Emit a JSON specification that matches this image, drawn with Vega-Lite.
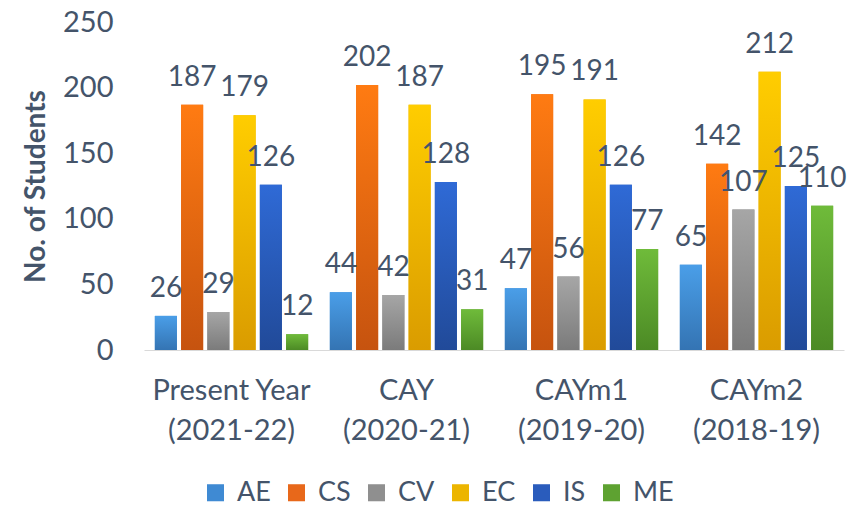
{
  "$schema": "https://vega.github.io/schema/vega-lite/v6.json",
  "width": 700,
  "height": 328,
  "autosize": {"type": "none"},
  "padding": {"left": 144, "top": 22, "right": 20, "bottom": 158},
  "background": "white",
  "config": {
    "font": "Lato",
    "view": {"stroke": null},
    "axis": {"labelFont": "Lato", "titleFont": "Lato", "labelColor": "#44546a", "titleColor": "#44546a"}
  },
  "data": {
    "values": [
      {"year": "Present Year|(2021-22)", "dept": "AE", "students": 26},
      {"year": "Present Year|(2021-22)", "dept": "CS", "students": 187},
      {"year": "Present Year|(2021-22)", "dept": "CV", "students": 29},
      {"year": "Present Year|(2021-22)", "dept": "EC", "students": 179},
      {"year": "Present Year|(2021-22)", "dept": "IS", "students": 126},
      {"year": "Present Year|(2021-22)", "dept": "ME", "students": 12},
      {"year": "CAY|(2020-21)", "dept": "AE", "students": 44},
      {"year": "CAY|(2020-21)", "dept": "CS", "students": 202},
      {"year": "CAY|(2020-21)", "dept": "CV", "students": 42},
      {"year": "CAY|(2020-21)", "dept": "EC", "students": 187},
      {"year": "CAY|(2020-21)", "dept": "IS", "students": 128},
      {"year": "CAY|(2020-21)", "dept": "ME", "students": 31},
      {"year": "CAYm1|(2019-20)", "dept": "AE", "students": 47},
      {"year": "CAYm1|(2019-20)", "dept": "CS", "students": 195},
      {"year": "CAYm1|(2019-20)", "dept": "CV", "students": 56},
      {"year": "CAYm1|(2019-20)", "dept": "EC", "students": 191},
      {"year": "CAYm1|(2019-20)", "dept": "IS", "students": 126},
      {"year": "CAYm1|(2019-20)", "dept": "ME", "students": 77},
      {"year": "CAYm2|(2018-19)", "dept": "AE", "students": 65},
      {"year": "CAYm2|(2018-19)", "dept": "CS", "students": 142},
      {"year": "CAYm2|(2018-19)", "dept": "CV", "students": 107},
      {"year": "CAYm2|(2018-19)", "dept": "EC", "students": 212},
      {"year": "CAYm2|(2018-19)", "dept": "IS", "students": 125},
      {"year": "CAYm2|(2018-19)", "dept": "ME", "students": 110}
    ]
  },
  "encoding": {
    "x": {
      "field": "year",
      "type": "nominal",
      "sort": null,
      "scale": {"paddingInner": 0.1, "paddingOuter": 0.05},
      "axis": {
        "title": null,
        "labelAngle": 0,
        "labelExpr": "split(datum.label, '|')",
        "labelFontSize": 29,
        "labelLineHeight": 40,
        "labelPadding": 26,
        "labelBaseline": "top",
        "ticks": false,
        "domain": true,
        "domainColor": "#d9d9d9",
        "grid": false
      }
    },
    "xOffset": {
      "field": "dept",
      "type": "nominal",
      "sort": ["AE", "CS", "CV", "EC", "IS", "ME"],
      "scale": {"paddingInner": 0.16, "paddingOuter": 0.08}
    },
    "y": {
      "field": "students",
      "type": "quantitative",
      "scale": {"domain": [0, 250], "nice": false},
      "axis": {
        "title": "No. of Students",
        "titleFontSize": 28,
        "titleFontWeight": "bold",
        "titlePadding": 12,
        "labelFontSize": 29,
        "labelPadding": 31,
        "labelOverlap": false,
        "values": [0, 50, 100, 150, 200, 250],
        "domain": false,
        "ticks": false,
        "grid": false
      }
    }
  },
  "layer": [
    {
      "mark": {"type": "bar"},
      "encoding": {
        "color": {
          "field": "dept",
          "type": "nominal",
          "sort": ["AE", "CS", "CV", "EC", "IS", "ME"],
          "scale": {"domain": ["AE", "CS", "CV", "EC", "IS", "ME"], "range": ["#3f8ad3", "#e8681a", "#8f8f8f", "#ecb500", "#2a5cbc", "#5ea231"]},
          "legend": {
            "title": null,
            "orient": "none",
            "direction": "horizontal",
            "legendX": 58,
            "legendY": 457,
            "symbolType": "square",
            "symbolSize": 290,
            "symbolStrokeWidth": 0,
            "labelFontSize": 27,
            "labelColor": "#44546a",
            "labelFont": "Lato",
            "labelOffset": 8,
            "columnPadding": 12
          }
        }
      }
    },
    {
      "mark": {"type": "bar"},
      "encoding": {
        "fill": {
          "condition": [
            {"test": "datum.dept === 'AE'", "value": {"gradient": "linear", "x1": 0, "y1": 0, "x2": 0, "y2": 1, "stops": [{"offset": 0, "color": "#4a9ee8"}, {"offset": 1, "color": "#3474b3"}]}},
            {"test": "datum.dept === 'CS'", "value": {"gradient": "linear", "x1": 0, "y1": 0, "x2": 0, "y2": 1, "stops": [{"offset": 0, "color": "#ff7b12"}, {"offset": 1, "color": "#c6530f"}]}},
            {"test": "datum.dept === 'CV'", "value": {"gradient": "linear", "x1": 0, "y1": 0, "x2": 0, "y2": 1, "stops": [{"offset": 0, "color": "#a6a6a6"}, {"offset": 1, "color": "#7b7b7b"}]}},
            {"test": "datum.dept === 'EC'", "value": {"gradient": "linear", "x1": 0, "y1": 0, "x2": 0, "y2": 1, "stops": [{"offset": 0, "color": "#ffcd00"}, {"offset": 1, "color": "#da9c00"}]}},
            {"test": "datum.dept === 'IS'", "value": {"gradient": "linear", "x1": 0, "y1": 0, "x2": 0, "y2": 1, "stops": [{"offset": 0, "color": "#2f6ad6"}, {"offset": 1, "color": "#214a99"}]}}
          ],
          "value": {"gradient": "linear", "x1": 0, "y1": 0, "x2": 0, "y2": 1, "stops": [{"offset": 0, "color": "#6fbb3a"}, {"offset": 1, "color": "#4c8a25"}]}
        }
      }
    },
    {
      "mark": {"type": "text", "fontSize": 28, "color": "#44546a", "baseline": "alphabetic", "dy": -19, "font": "Lato"},
      "encoding": {
        "text": {"field": "students", "type": "quantitative"}
      }
    }
  ]
}
